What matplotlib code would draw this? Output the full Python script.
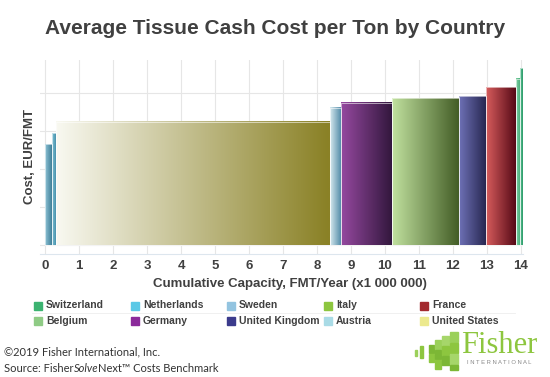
import matplotlib
matplotlib.use("Agg")
import matplotlib.pyplot as plt
import numpy as np
from matplotlib.colors import to_rgb
from matplotlib.patches import Rectangle

plt.rcParams['font.family'] = ['Liberation Sans', 'DejaVu Sans']

# datos: paises en orden de costo, capacidad (millones FMT/año) y costo
paises = ['Sweden', 'Netherlands', 'United States', 'Austria', 'Germany',
          'Belgium', 'United Kingdom', 'France', 'Italy', 'Switzerland']
capacidad = [0.19, 0.13, 8.05, 0.34, 1.50, 1.96, 0.80, 0.88, 0.12, 0.08]
costo = [266, 295, 324, 361, 375, 387, 392, 415, 438, 465]

# colores del degradado de cada barra (claro -> oscuro)
grad_claro = ['#8fc3d6', '#7fc0d4', '#f8f8f0', '#d6e8ee', '#95499f',
              '#c0e09e', '#6e71b6', '#d65c5c', '#7cd0a0', '#5cc496']
grad_oscuro = ['#3f7f98', '#3a88a3', '#8a8126', '#4a86a4', '#33173e',
               '#445e27', '#25254e', '#570a17', '#45a878', '#2f9a6a']

# leyenda (filas de 5)
ley_nombres = ['Switzerland', 'Netherlands', 'Sweden', 'Italy', 'France',
               'Belgium', 'Germany', 'United Kingdom', 'Austria', 'United States']
ley_colores = ['#3cb371', '#5bc8e6', '#93c4e0', '#8dc63f', '#a32a2f',
               '#8fcb85', '#8b2a9b', '#3b3b8c', '#a9dbe6', '#ece98e']

xticks = list(range(0, 15))
gris = '#404040'

fig = plt.figure(figsize=(5.5, 3.77), dpi=100)
ax = fig.add_axes([40/550, 1-254/377, 483/550, 194/377])

izq = np.concatenate([[0], np.cumsum(capacidad)[:-1]])
barras = ax.bar(izq, costo, width=capacidad, align='edge', color='none',
                edgecolor='white', linewidth=0.4, zorder=3)

# degradado horizontal dentro de cada barra
for i, b in enumerate(barras):
    c1 = np.array(to_rgb(grad_claro[i]))
    c2 = np.array(to_rgb(grad_oscuro[i]))
    t = np.linspace(0, 1, 64)[:, None]
    img = (c1 * (1 - t) + c2 * t)[None, :, :]
    ax.imshow(img, extent=[izq[i], izq[i] + capacidad[i], 0, costo[i]],
              aspect='auto', zorder=2, interpolation='bilinear')

ax.set_xlim(-0.15, 14.06)
ax.set_ylim(-24, 487)
ax.set_xticks(xticks)
ax.set_xticklabels([str(v) for v in xticks], fontsize=9.5, fontweight='bold', color=gris)
ax.set_yticks([0, 100, 200, 300, 400])
ax.set_yticklabels([])
ax.tick_params(length=0, pad=4)
ax.grid(True, color='#e6e6e6', linewidth=0.8, zorder=0)
ax.set_axisbelow(True)
for s in ['top', 'right', 'left']:
    ax.spines[s].set_visible(False)
ax.spines['bottom'].set_color('#dde6ee')

fig.text(275/550, 1-28/377, 'Average Tissue Cash Cost per Ton by Country',
         ha='center', va='center', fontsize=15, fontweight='bold', color=gris)
fig.text(30/550, 1-157/377, 'Cost, EUR/FMT', rotation=90, ha='center',
         va='center', fontsize=9.5, fontweight='bold', color=gris)
fig.text(290/550, 1-284/377, 'Cumulative Capacity, FMT/Year (x1 000 000)',
         ha='center', va='center', fontsize=9.5, fontweight='bold', color=gris)

# leyenda manual
col_x = [34, 131, 227, 324, 420]
fila_y = [305.5, 320.5]
for k, nombre in enumerate(ley_nombres):
    fx = col_x[k % 5]
    fy = fila_y[k // 5]
    fig.patches.append(Rectangle((fx/550, 1-(fy+4)/377), 8/550, 8/377,
                                 transform=fig.transFigure, color=ley_colores[k]))
    fig.text((fx+12)/550, 1-fy/377, nombre, ha='left', va='center',
             fontsize=7.5, fontweight='bold', color=gris)
fig.lines.append(plt.Line2D([32/550, 515/550], [1-313/377, 1-313/377],
                            transform=fig.transFigure, color='#eeeeee', lw=0.6))

# pie de pagina
pie = dict(fontsize=8, color='#333333', family=['Lato', 'DejaVu Sans'], va='center')
fig.text(4/550, 1-352/377, '\u00a92019 Fisher International, Inc.', ha='left', **pie)
fig.canvas.draw()
ren = fig.canvas.get_renderer()
x0 = 4/550
for trozo, est in [('Source: Fisher', 'normal'), ('Solve', 'italic'),
                   ('Next\u2122 Costs Benchmark', 'normal')]:
    t = fig.text(x0, 1-368/377, trozo, ha='left', style=est, **pie)
    bb = t.get_window_extent(renderer=ren)
    x0 = bb.x1 / fig.bbox.width

# logo Fisher
verde = '#8dc63f'
fig.text(461/550, 1-353/377, 'Fisher', ha='left', va='baseline', fontsize=22,
         color=verde, family=['Liberation Serif', 'DejaVu Serif'])
fig.text(499/550, 1-362/377, 'I N T E R N A T I O N A L', ha='center',
         va='center', fontsize=4.2, color='#888888')
bloques = [(415, 350, 2, 6, '#9bd05a'), (420, 346, 3, 12, '#8dc63f'),
           (429, 345, 5, 8, '#7cb735'), (429, 354, 5, 8, '#8dc63f'),
           (435, 340, 6, 9, '#9bd05a'), (435, 350, 6, 9, '#7cb735'),
           (435, 360, 6, 9, '#8dc63f'), (442, 336, 7, 9, '#a6d66a'),
           (442, 346, 7, 9, '#8dc63f'), (442, 356, 7, 9, '#7cb735'),
           (450, 332, 8, 10, '#9bd05a'), (450, 343, 8, 10, '#8dc63f'),
           (450, 354, 8, 10, '#a6d66a'), (450, 365, 8, 5, '#7cb735')]
for bx, by, bw, bh, bc in bloques:
    fig.patches.append(Rectangle((bx/550, 1-(by+bh)/377), bw/550, bh/377,
                                 transform=fig.transFigure, color=bc))

fig.savefig('out.png', dpi=100)
